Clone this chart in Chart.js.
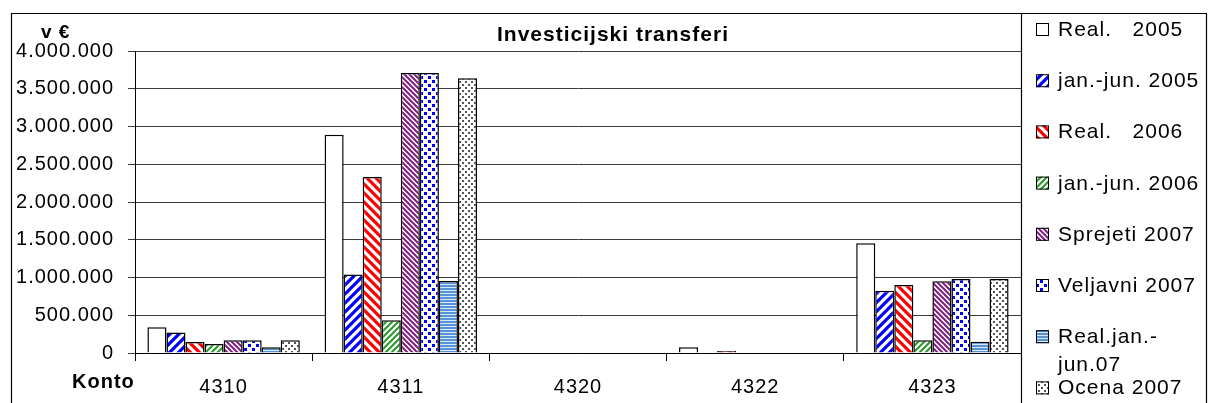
<!DOCTYPE html>
<html>
<head>
<meta charset="utf-8">
<script src="https://cdn.jsdelivr.net/npm/chart.js@4.4.1/dist/chart.umd.min.js"></script>
<style>
  html, body { margin: 0; padding: 0; background: #fff; }
  #wrap { width: 1208px; height: 403px; position: relative; }
</style>
</head>
<body>
<div id="wrap"><canvas id="chart"></canvas></div>
<script>
// Podatki (v €)
const konto = ['4310', '4311', '4320', '4322', '4323'];
const serije = ['Real.   2005', 'jan.-jun. 2005', 'Real.   2006', 'jan.-jun. 2006',
  'Sprejeti 2007', 'Veljavni 2007', 'Real.jan.-\njun.07', 'Ocena 2007'];
const real2005 = [340000, 2890000, 0, 75000, 1455000];
const janJun2005 = [270000, 1040000, 0, 0, 825000];
const real2006 = [145000, 2330000, 0, 25000, 900000];
const janJun2006 = [120000, 435000, 0, 0, 170000];
const sprejeti2007 = [170000, 3710000, 0, 0, 950000];
const veljavni2007 = [170000, 3710000, 0, 0, 980000];
const realJanJun07 = [75000, 955000, 0, 0, 150000];
const ocena2007 = [170000, 3640000, 0, 0, 980000];
const yTicks = [0, 500000, 1000000, 1500000, 2000000, 2500000, 3000000, 3500000, 4000000];

const vrednosti = [real2005, janJun2005, real2006, janJun2006, sprejeti2007, veljavni2007, realJanJun07, ocena2007];

const FONT = '"Liberation Sans", Arial, sans-serif';

// --- vzorci (patterns) ---
function tile(size, draw) {
  const c = document.createElement('canvas');
  c.width = size; c.height = size;
  const g = c.getContext('2d');
  g.fillStyle = '#fff';
  g.fillRect(0, 0, size, size);
  draw(g, size);
  return g.createPattern(c, 'repeat');
}
function stripes(size, width, color, rising) {
  return tile(size, (g, s) => {
    g.strokeStyle = color; g.lineWidth = width;
    g.beginPath();
    if (rising) {
      g.moveTo(-1, s + 1); g.lineTo(s + 1, -1);
      g.moveTo(-s / 2 - 1, s / 2 + 1); g.lineTo(s / 2 + 1, -s / 2 - 1);
      g.moveTo(s / 2 - 1, s * 1.5 + 1); g.lineTo(s * 1.5 + 1, s / 2 - 1);
    } else {
      g.moveTo(-1, -1); g.lineTo(s + 1, s + 1);
      g.moveTo(-s / 2 - 1, s / 2 - 1); g.lineTo(s / 2 + 1, s * 1.5 + 1);
      g.moveTo(s / 2 - 1, -s / 2 - 1); g.lineTo(s * 1.5 + 1, s / 2 + 1);
    }
    g.stroke();
  });
}
function dots(size, dot, color) {
  return tile(size, (g, s) => {
    g.fillStyle = color;
    g.fillRect(0, 0, dot, dot);
    g.fillRect(s / 2, s / 2, dot, dot);
  });
}
const hlines = tile(3, (g) => {
  g.fillStyle = '#5592d6'; g.fillRect(0, 0, 3, 3);
  g.fillStyle = '#d8e8f8'; g.fillRect(0, 2, 3, 1);
});

const vzorci = [
  '#ffffff',
  stripes(9, 3.2, '#0000ff', true),
  stripes(9, 3.2, '#ff0000', false),
  stripes(6, 2.2, '#2f9a2f', true),
  stripes(5, 2, '#7f1f7f', false),
  dots(8, 3, '#0000ff'),
  hlines,
  dots(6, 2, '#555555')
];

const fmt = v => String(v).replace(/\B(?=(\d{3})+(?!\d))/g, '.');

const PLOT = { left: 135, top: 51, right: 1021, bottom: 353 };

// okvir, naslov, oznake osi in legenda
const okvirPlugin = {
  id: 'okvir',
  beforeDraw(chart) {
    chart.ctx.letterSpacing = '1px';
  },
  afterDraw(chart) {
    const ctx = chart.ctx;
    ctx.save();
    ctx.letterSpacing = '1px';
    ctx.strokeStyle = '#000';
    ctx.lineWidth = 1.2;
    ctx.beginPath();
    ctx.moveTo(11.5, 403); ctx.lineTo(11.5, 13.5); ctx.lineTo(1206.5, 13.5); ctx.lineTo(1206.5, 403);
    ctx.moveTo(1021.5, 13.5); ctx.lineTo(1021.5, 403);
    ctx.stroke();

    ctx.fillStyle = '#000';
    ctx.textBaseline = 'alphabetic';
    ctx.textAlign = 'center';
    ctx.font = 'bold 21px ' + FONT;
    ctx.fillText('Investicijski transferi', 613, 41);

    ctx.textAlign = 'left';
    ctx.font = 'bold 19px ' + FONT;
    ctx.fillText('v €', 41, 38);
    ctx.font = 'bold 20px ' + FONT;
    ctx.fillText('Konto', 72, 388);

    // legenda
    ctx.font = '21px ' + FONT;
    serije.forEach((ime, i) => {
      const base = 36 + 51.2 * i;
      ctx.fillStyle = vzorci[i];
      ctx.fillRect(1036, base - 13, 13, 13);
      ctx.lineWidth = 1;
      ctx.strokeStyle = '#000';
      ctx.strokeRect(1036.5, base - 12.5, 12, 12);
      ctx.fillStyle = '#000';
      ime.split('\n').forEach((vrstica, k) => {
        ctx.fillText(vrstica, 1058, base + 28 * k);
      });
    });
    ctx.restore();
  }
};

new Chart(document.getElementById('chart'), {
  type: 'bar',
  data: {
    labels: konto,
    datasets: serije.map((ime, i) => ({
      label: ime.replace('\n', ''),
      data: vrednosti[i],
      backgroundColor: vzorci[i],
      borderColor: '#000',
      borderWidth: 1.5,
      categoryPercentage: 0.86,
      barPercentage: 1.0
    }))
  },
  options: {
    responsive: true,
    maintainAspectRatio: false,
    animation: false,
    layout: { padding: { left: 0, top: PLOT.top, right: 1208 - PLOT.right, bottom: 0 } },
    plugins: {
      legend: { display: false },
      title: { display: false },
      tooltip: { enabled: false }
    },
    scales: {
      x: {
        afterFit: s => { s.height = 403 - PLOT.bottom; },
        grid: { display: true, drawOnChartArea: false, drawTicks: true, tickLength: 8, color: '#000', offset: true },
        border: { display: true, color: '#000', width: 1 },
        ticks: { color: '#000', font: { family: FONT, size: 20 }, padding: 14, maxRotation: 0 }
      },
      y: {
        min: 0,
        max: 4000000,
        afterFit: s => { s.width = PLOT.left; },
        afterBuildTicks: s => { s.ticks = yTicks.map(v => ({ value: v })); },
        grid: { color: '#3a3a3a', lineWidth: 1, tickLength: 7, drawTicks: true },
        border: { display: true, color: '#000', width: 1 },
        ticks: { color: '#000', font: { family: FONT, size: 20 }, padding: 14, callback: v => fmt(v) }
      }
    }
  },
  plugins: [okvirPlugin]
});
</script>
</body>
</html>
